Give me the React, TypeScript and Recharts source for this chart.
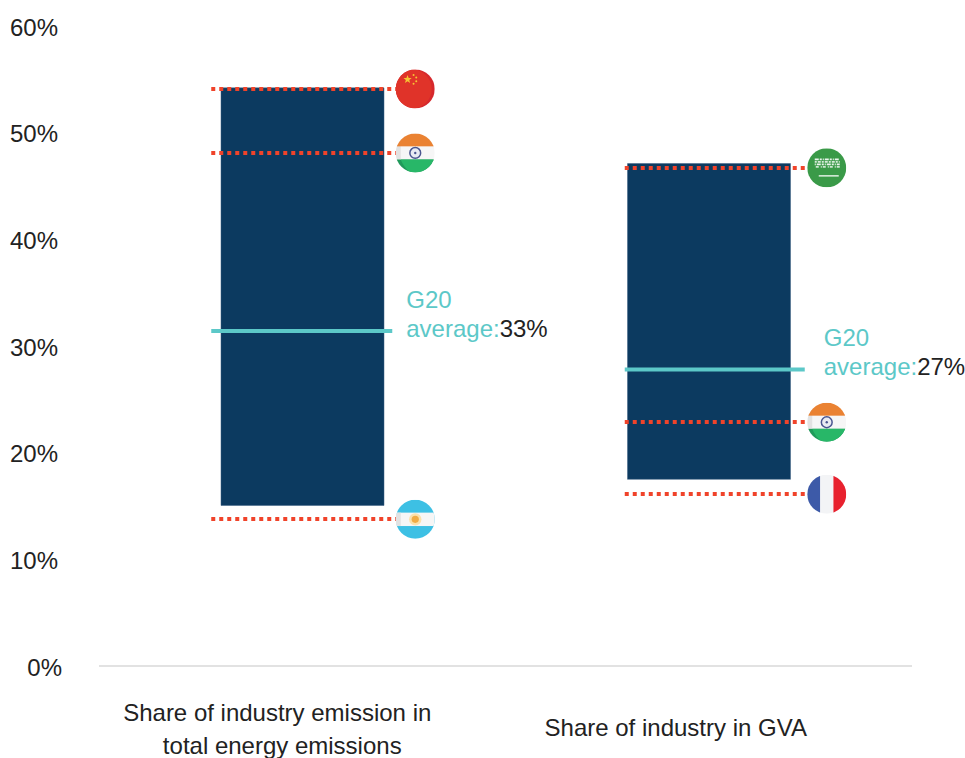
import { Bar, ComposedChart, Line, XAxis, YAxis } from "recharts";

const categories = ["Share of industry emission in total energy emissions", "Share of industry in GVA"];
const barLow = [15.05, 17.5];
const barHigh = [54.2, 47.1];
const upperMarker = [54.1, 46.7];
const middleMarker = [48.1, 22.85];
const lowerMarker = [13.75, 16.1];
const g20Position = [31.4, 27.8];
const g20Label = ["33%", "27%"];
const upperFlag = ["china", "saudi"];
const middleFlag = ["india", "india"];
const lowerFlag = ["argentina", "france"];
const yTicks = [0, 10, 20, 30, 40, 50, 60];
const xTickLines = [
  ["Share of industry emission in", "total energy emissions"],
  ["Share of industry in GVA"],
];

const data = categories.map((category, i) => ({
  category,
  base: barLow[i],
  range: barHigh[i] - barLow[i],
  upper: upperMarker[i],
  middle: middleMarker[i],
  lower: lowerMarker[i],
  g20: g20Position[i],
}));

const FONT = "'Liberation Sans', Arial, sans-serif";
const NAVY = "#0c3a60";
const RED = "#f0432a";
const TEAL = "#5cc8c8";
const TEXT = "#222222";
const FONT_SIZE = 24;

// per-column layout, relative to the centre of the band
const lineLeft = [-91, -84];
const lineRight = [94, 98];
const flagDx = [113, 118];
const avgLeft = [-91, -84];
const avgRight = [90, 96];
const avgLabelDx = [104, 115];
const xLineDx = [[-25, -20], [-33]];
const xLineY = [[47, 80], [62]];

function FlagArt({ name, id }: { name: string; id: string }) {
  const r = 19.5;
  const body = () => {
    if (name === "china") {
      return (
        <>
          <rect x={-r} y={-r} width={2 * r} height={2 * r} fill="#d6282c" />
          <circle cx={-3} cy={0} r={r} fill="#e03329" />
          <polygon
            points="-7.7,-14 -6.6,-11 -3.6,-11 -6,-9 -5.1,-6 -7.7,-7.8 -10.3,-6 -9.4,-9 -11.8,-11 -8.8,-11"
            fill="#f6c533"
          />
          <circle cx={-1.7} cy={-14} r={1} fill="#f6c533" />
          <circle cx={1} cy={-11.5} r={1} fill="#f6c533" />
          <circle cx={1} cy={-7.7} r={1} fill="#f6c533" />
          <circle cx={-1.7} cy={-5.3} r={1} fill="#f6c533" />
        </>
      );
    }
    if (name === "india") {
      return (
        <>
          <rect x={-r} y={-r} width={2 * r} height={2 * r} fill="#f6f6f6" />
          <rect x={-r} y={-r} width={5} height={2 * r} fill="#e2e2e2" />
          <rect x={-r} y={-r} width={2 * r} height={r - 6.6} fill="#ea8232" />
          <rect x={-r} y={6.6} width={2 * r} height={r - 6.6} fill="#1f9a5a" />
          <path d="M-14.5 6.6 H19.5 V19.5 H-5 Q-12 14 -14.5 6.6 Z" fill="#28b768" />
          <circle cx={0} cy={0} r={5.4} fill="#e9ebf2" stroke="#4a5690" strokeWidth={1.5} />
          <circle cx={0} cy={0} r={1.2} fill="#4a5690" />
        </>
      );
    }
    if (name === "argentina") {
      return (
        <>
          <rect x={-r} y={-r} width={2 * r} height={2 * r} fill="#3dc0e4" />
          <rect x={-r} y={-6.7} width={2 * r} height={13.4} fill="#f6f6f6" />
          <rect x={-r} y={-6.7} width={5} height={13.4} fill="#e2e2e2" />
          <circle cx={0} cy={0} r={6.2} fill="#fbe2ad" />
          <circle cx={0} cy={0} r={3.6} fill="#f0ac45" />
        </>
      );
    }
    if (name === "saudi") {
      return (
        <>
          <rect x={-r} y={-r} width={2 * r} height={2 * r} fill="#3a9a48" />
          <g stroke="#ffffff" fill="none">
            <line x1={-12} y1={-8.5} x2={13} y2={-8.5} strokeWidth={1.6} strokeDasharray="4 1 2 1 1 1" opacity={0.9} />
            <line x1={-12} y1={-6} x2={13} y2={-6} strokeWidth={1.6} strokeDasharray="2 1 3 1" opacity={0.8} />
            <line x1={-12} y1={-3.5} x2={13} y2={-3.5} strokeWidth={1.6} strokeDasharray="1 1 4 1 2 1" opacity={0.9} />
            <line x1={-11} y1={-1} x2={13} y2={-1} strokeWidth={1.6} strokeDasharray="3 2 1 1" opacity={0.75} />
            <line x1={-8} y1={8} x2={12} y2={8} strokeWidth={1.2} />
          </g>
        </>
      );
    }
    return (
      <>
        <rect x={-r} y={-r} width={2 * r} height={2 * r} fill="#f3f4f6" />
        <rect x={-r} y={-r} width={r - 6.7} height={2 * r} fill="#3d5aa8" />
        <rect x={6.7} y={-r} width={r - 6.7} height={2 * r} fill="#e8212e" />
      </>
    );
  };
  return (
    <>
      <clipPath id={id}>
        <circle cx={0} cy={0} r={r} />
      </clipPath>
      <g clipPath={`url(#${id})`}>{body()}</g>
    </>
  );
}

// dotted red line with the flag at its end, drawn at the scaled point
const flagDot = (flags: string[], slot: string) => (props: any) => {
  const { cx, cy, index } = props;
  return (
    <g key={`${slot}-${index}`}>
      <line
        x1={cx + lineLeft[index]}
        x2={cx + lineRight[index]}
        y1={Math.round(cy)}
        y2={Math.round(cy)}
        stroke={RED}
        strokeWidth={4}
        strokeDasharray="4 4"
      />
      <g transform={`translate(${cx + flagDx[index]},${cy})`}>
        <FlagArt name={flags[index]} id={`flag-${slot}-${index}`} />
      </g>
    </g>
  );
};

const avgDot = (props: any) => {
  const { cx, cy, index } = props;
  const tx = cx + avgLabelDx[index];
  return (
    <g key={`avg-${index}`}>
      <line x1={cx + avgLeft[index]} x2={cx + avgRight[index]} y1={cy} y2={cy} stroke={TEAL} strokeWidth={4} />
      <text x={tx} y={cy - 23} fontFamily={FONT} fontSize={FONT_SIZE} fill={TEAL}>
        G20
      </text>
      <text x={tx} y={cy + 6} fontFamily={FONT} fontSize={FONT_SIZE} fill={TEAL}>
        average:
        <tspan fill={TEXT}>{g20Label[index]}</tspan>
      </text>
    </g>
  );
};

const YTick = ({ y, payload }: any) => (
  <text
    x={payload.value === 0 ? 62 : 58}
    y={y + 9.5}
    textAnchor="end"
    fontFamily={FONT}
    fontSize={FONT_SIZE}
    fill={TEXT}
  >
    {payload.value}%
  </text>
);

const XTick = ({ x, y, index }: any) => (
  <g>
    {xTickLines[index].map((line, i) => (
      <text
        key={line}
        x={x + xLineDx[index][i]}
        y={y + xLineY[index][i]}
        textAnchor="middle"
        fontFamily={FONT}
        fontSize={FONT_SIZE}
        fill={TEXT}
      >
        {line}
      </text>
    ))}
  </g>
);

export default function App() {
  return (
    <div style={{ position: "absolute", left: 0, top: 0, width: 965, height: 758, overflow: "hidden" }}>
      <ComposedChart
        width={965}
        height={758}
        data={data}
        margin={{ top: 26, right: 53, bottom: 0, left: 0 }}
        barCategoryGap={0}
      >
        <XAxis
          dataKey="category"
          height={92}
          interval={0}
          axisLine={{ stroke: "#e2e2e2", strokeWidth: 2 }}
          tickLine={false}
          tick={<XTick />}
        />
        <YAxis
          width={99}
          domain={[0, 60]}
          ticks={yTicks}
          axisLine={false}
          tickLine={false}
          tick={<YTick />}
        />
        <Bar dataKey="base" stackId="a" fill="transparent" barSize={163} isAnimationActive={false} />
        <Bar dataKey="range" stackId="a" fill={NAVY} stroke="#3b5f80" strokeWidth={0.5} barSize={163} isAnimationActive={false} />
        <Line dataKey="upper" stroke="none" dot={flagDot(upperFlag, "upper")} activeDot={false} isAnimationActive={false} />
        <Line dataKey="middle" stroke="none" dot={flagDot(middleFlag, "middle")} activeDot={false} isAnimationActive={false} />
        <Line dataKey="lower" stroke="none" dot={flagDot(lowerFlag, "lower")} activeDot={false} isAnimationActive={false} />
        <Line dataKey="g20" stroke="none" dot={avgDot} activeDot={false} isAnimationActive={false} />
      </ComposedChart>
    </div>
  );
}
